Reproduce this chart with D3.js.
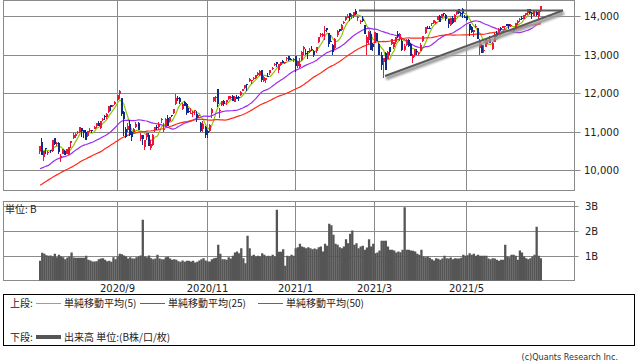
<!DOCTYPE html>
<html>
<head>
<meta charset="utf-8">
<script src="https://cdn.jsdelivr.net/npm/d3@7"></script>
<style>
html, body { margin: 0; padding: 0; background: #fff; }
svg { display: block; }
.num { font-family: "DejaVu Sans", sans-serif; font-size: 10px; fill: #222; }
.jp { font-family: "Noto Sans CJK JP", sans-serif; font-size: 10px; fill: #222; }
</style>
</head>
<body>
<svg id="chart" width="638" height="362"></svg>
<script>
// daily candles, 2020/7/10 .. 2021/6/22
const opens = [10487,10728,10330,10570,10440,10510,10490,10830,10680,10700,10300,10420,10500,10420,10400,10700,
10830,10880,10980,10990,11090,11030,11000,10880,11010,11040,11070,11140,11220,11090,11290,11400,11380,11500,11690,11660,11720,
11820,11970,11860,11500,11060,11030,11200,10990,11000,11110,11210,10800,10900,10600,10860,10920,10580,10650,11050,11120,11110,
11310,11050,11130,11340,11260,11430,11470,11710,11880,11880,11580,11760,11720,11540,11480,11470,11520,11460,11400,11230,11060,11110,
11010,11010,11490,11800,11860,12100,11540,11690,11780,11770,11850,11870,11910,11770,11900,11890,11960,12060,12120,12230,
12300,12320,12370,12390,12460,12480,12600,12300,12330,12450,12520,12620,12720,12800,12600,12740,12820,12780,12880,12960,12880,12880,
12960,12690,12670,12850,13150,13050,13080,13060,13150,13080,13090,13330,13500,13490,13600,13690,13550,13340,13240,
13160,13500,13660,13630,13830,13900,13950,14070,14010,14010,14130,13940,13860,13920,13760,13300,13370,13540,13260,
13310,13560,13280,12990,12800,13030,12880,13190,13260,13200,13330,13530,13400,13360,13120,13240,13370,13280,12900,12990,13100,13010,13090,
13340,13550,13700,13690,13780,13810,13840,13900,14010,13950,14080,14020,13910,13760,13940,13850,14050,14170,14090,14170,13980,
14000,13800,13710,13590,13710,13680,13160,13250,13100,13200,13370,13400,13130,13330,13560,13520,13690,13690,13720,13790,
13790,13750,13660,13660,13810,13920,13950,13930,14030,14070,14170,14080,14000,14100,14000,14140];
const highs = [10624,10824,10496,10580,10500,10531,10780,10840,10730,10720,10420,10540,10510,10550,10600,10750,
10950,10950,11003,11110,11100,11040,11050,11020,11100,11050,11140,11210,11280,11270,11340,11420,11470,11670,11700,11700,11790,
11945,12074,11860,11530,11120,11210,11290,11020,11100,11240,11250,10970,10900,10790,10970,10950,10780,10930,11120,11160,11240,
11340,11230,11340,11420,11370,11440,11580,11970,11910,11900,11740,11790,11740,11620,11600,11530,11550,11520,11440,11240,11260,11130,
11050,11190,11620,11900,11920,12110,11610,11800,11820,11830,11930,11920,11940,11910,11940,11910,12040,12110,12210,12230,
12400,12350,12420,12470,12540,12590,12610,12430,12380,12530,12600,12670,12770,12810,12750,12810,12870,12810,12930,12970,12920,12900,
12960,12840,12920,13090,13210,13130,13090,13160,13210,13120,13200,13460,13560,13560,13730,13700,13560,13510,13270,
13420,13630,13670,13780,13880,13990,14040,14070,14040,14100,14175,14000,13900,13990,13770,13500,13600,13620,13300,
13590,13570,13290,13070,12920,13060,13100,13200,13400,13330,13460,13620,13560,13400,13270,13400,13410,13300,13020,13150,13140,13060,13290,
13490,13710,13730,13730,13830,13900,13860,14000,14030,14050,14080,14040,13920,13950,14010,14060,14140,14180,14100,14210,14030,
14010,13800,13730,13640,13800,13690,13410,13280,13250,13440,13380,13480,13320,13550,13600,13690,13720,13750,13740,13790,
13800,13780,13670,13820,13890,13940,13990,14030,14070,14180,14170,14110,14160,14130,14140,14255];
const lows = [10427,10382,10230,10420,10390,10440,10470,10640,10620,10410,10220,10410,10400,10420,10380,10570,
10800,10830,10930,10960,10860,10830,10770,10860,10990,10970,11060,11100,11130,11070,11270,11300,11330,11490,11520,11630,11690,
11780,11850,11400,10875,10830,10990,10880,10760,10960,11100,11040,10760,10660,10520,10770,10630,10520,10620,10990,11040,11070,
11220,10980,11120,11130,11250,11370,11460,11700,11790,11710,11560,11660,11440,11480,11470,11380,11440,11250,11350,11000,10990,10820,
10830,10990,11340,11770,11760,11640,11340,11670,11650,11700,11830,11850,11800,11760,11850,11800,11920,12040,12110,12040,
12280,12230,12340,12370,12450,12450,12290,12290,12270,12420,12470,12600,12700,12680,12530,12690,12770,12750,12830,12820,12850,12800,
12540,12650,12660,12840,13000,12990,12890,13030,13100,12940,13040,13300,13460,13460,13380,13580,13190,13320,13000,
13110,13450,13580,13610,13790,13870,13950,13870,13930,13960,14020,13880,13780,13840,13530,13000,13260,13110,13080,
13300,13350,12990,12600,12400,12600,12880,13000,13240,13150,13260,13430,13350,13100,13090,13230,13200,12950,12790,12930,12990,12950,13090,
13330,13540,13660,13660,13730,13780,13790,13890,13840,13940,13990,13870,13690,13730,13780,13840,14020,14040,14000,13960,13940,
13880,13480,13570,13460,13690,13390,13000,13030,13050,13200,13260,13300,13120,13320,13460,13510,13610,13680,13630,13730,
13670,13710,13570,13650,13770,13840,13900,13910,14000,14020,14050,13920,13990,14000,13910,14110];
const closes = [10617,10391,10488,10550,10473,10503,10767,10680,10706,10461,10363,10536,10402,10542,10587,10745,
10903,10941,10998,11108,11011,10968,10782,11012,11042,11019,11129,11210,11146,11264,11312,11380,11466,11665,11625,11695,11775,
11939,12056,11458,11313,10847,11141,10919,10854,11056,11190,11050,10910,10793,10778,10964,10633,10672,10914,11118,11085,11168,
11326,11076,11332,11154,11364,11420,11580,11876,11863,11768,11714,11671,11479,11517,11485,11506,11548,11358,11431,11005,11186,10912,
10958,11161,11590,11890,11895,11713,11553,11786,11710,11829,11925,11899,11802,11905,11855,11881,12037,12095,12206,12199,
12355,12349,12377,12464,12520,12583,12339,12405,12378,12440,12595,12658,12765,12756,12742,12807,12771,12805,12900,12850,12870,12888,
12698,12819,12741,13067,13202,13036,13072,13128,13112,12998,13197,13457,13530,13543,13636,13626,13271,13337,13071,
13403,13612,13610,13778,13856,13987,14007,13973,14025,14095,14047,13966,13865,13874,13533,13465,13597,13119,13192,
13588,13358,12998,12723,12920,12609,13073,13068,13398,13320,13460,13471,13525,13116,13215,13378,13228,12962,12977,13139,13059,13045,13247,
13480,13705,13698,13688,13829,13900,13850,13996,13857,14039,14052,13914,13787,13950,13818,14017,14138,14090,14051,14082,13962,
13895,13634,13582,13633,13752,13402,13389,13032,13125,13430,13379,13303,13300,13536,13471,13662,13657,13738,13736,13749,
13737,13756,13615,13814,13882,13925,13912,14020,14070,14175,14073,14040,14162,14031,14141,14253];
// closes of the 49 sessions before the first candle, for the moving averages
const priorCloses = [8890,8605,8711,8809,8854,8980,9121,9192,9003,8863,8944,9015,9235,9185,9376,9285,9325,9340,9412,9369,9490,
9552,9608,9683,9616,9814,9925,9954,10020,9493,9589,9726,9896,9911,9943,9946,10056,10131,9909,10017,9757,9874,10059,
10155,10208,10434,10344,10493,10548];
// volume, B
const volumes = [0.79,1.11,1.07,1.01,0.99,1.00,0.96,1.07,0.93,1.03,0.96,0.93,0.85,0.92,0.96,1.12,0.92,0.91,0.91,0.91,
0.91,0.91,0.99,0.83,0.80,0.76,0.76,0.77,0.85,0.88,0.89,0.83,0.77,0.79,0.75,0.93,0.85,0.96,1.07,1.05,
1.00,0.96,0.88,0.93,0.88,0.88,0.93,0.96,1.00,2.43,0.96,0.93,1.00,0.89,0.85,0.88,1.03,0.88,0.85,0.85,
0.93,0.95,0.88,0.83,0.85,0.83,0.77,0.75,0.80,0.75,0.79,0.79,0.76,0.79,0.72,0.75,0.80,0.85,0.89,0.80,
0.76,0.76,0.85,0.89,0.91,1.43,1.07,0.85,0.85,0.83,0.93,0.88,0.99,1.12,1.16,1.09,1.29,0.89,0.69,1.79,
1.29,0.99,1.03,0.96,0.99,0.96,1.09,1.03,0.96,0.99,0.96,1.03,0.96,2.83,1.15,1.15,1.25,0.59,0.99,0.96,
1.03,0.99,1.29,1.33,1.47,1.36,1.33,1.29,1.33,1.29,1.25,1.28,1.25,1.33,1.36,1.16,1.47,1.39,2.27,2.21,
1.83,1.47,1.43,1.33,1.29,1.36,1.65,1.49,1.87,2.00,1.43,1.49,1.29,1.36,1.39,1.23,1.32,1.65,1.36,1.47,
1.09,1.12,1.20,1.59,1.59,1.59,1.36,1.23,1.23,1.20,1.12,1.16,1.13,1.23,2.93,1.23,1.23,1.20,1.19,1.16,
1.07,1.03,1.23,0.96,0.93,0.96,0.91,0.85,0.80,0.89,0.87,0.83,0.88,0.99,0.89,0.88,0.92,0.85,0.89,0.88,
0.88,0.91,1.03,0.99,1.01,1.09,1.03,1.07,0.99,1.03,0.99,0.99,0.99,0.99,0.88,0.85,0.89,0.88,0.83,0.79,
0.83,0.83,1.43,0.96,0.93,1.03,1.03,0.99,0.83,1.20,1.12,0.96,0.89,0.85,0.89,0.96,1.03,2.15,0.99,0.89];

const priceTicks = [10000, 11000, 12000, 13000, 14000];
const volTicks = [1, 2, 3];
const monthLabels = ["2020/9", "2020/11", "2021/1", "2021/3", "2021/5"];
const monthIndex = [37, 80, 122, 160, 204];
const maPeriods = [5, 25, 50];
const maColors = ["#8fc400", "#9a2cf0", "#ff2a1a"];
// drawn trend lines: [candle index, price]
const resistLine = [[152.2, 14143], [249.6, 14143]];
const supportLine = [[164.7, 12442], [249.6, 14143]];

const svg = d3.select('#chart');
const step = 2.095;
const left = 3.5, right = 574.5;

const x = d3.scaleLinear().domain([0, 240]).range([39, 39 + 240 * step]);
const cx = i => x(i) + step / 2;
const y = d3.scaleLinear().domain([10000, 14000]).range([170, 16]);
const yv = d3.scaleLinear().domain([0, 3]).range([280.5, 205.5]);

svg.append('defs').append('clipPath').attr('id', 'clipMain')
  .append('rect').attr('x', left).attr('y', 0.5).attr('width', right - left).attr('height', 190);
const blur = svg.select('defs').append('filter').attr('id', 'shade')
  .attr('x', '-5%').attr('y', '-50%').attr('width', '110%').attr('height', '200%');
blur.append('feGaussianBlur').attr('stdDeviation', 1.2);

// grid, upper panel
const grid = svg.append('g').attr('stroke', '#8a8a8a').attr('stroke-width', 1);
priceTicks.forEach(p => {
  const yy = Math.round(y(p)) + 0.5;
  grid.append('line').attr('x1', left).attr('x2', right + 6).attr('y1', yy).attr('y2', yy);
  svg.append('text').attr('class', 'num').attr('x', 584).attr('y', yy + 3.6).text(d3.format(',')(p));
});
volTicks.forEach(v => {
  const yy = Math.round(yv(v)) + 0.5;
  grid.append('line').attr('x1', left).attr('x2', right + 4).attr('y1', yy).attr('y2', yy);
  svg.append('text').attr('class', 'num').attr('x', 585).attr('y', yy + 3.6).text(v + 'B');
});
monthIndex.forEach((m, k) => {
  const xx = Math.round(x(m)) + 0.5;
  grid.append('line').attr('x1', xx).attr('x2', xx).attr('y1', 0.5).attr('y2', 190.5);
  grid.append('line').attr('x1', xx).attr('x2', xx).attr('y1', 201.5).attr('y2', 280.5);
  svg.append('text').attr('class', 'num').attr('x', xx).attr('y', 292)
    .attr('text-anchor', 'middle').text(monthLabels[k]);
});
grid.append('rect').attr('x', left).attr('y', 0.5).attr('width', right - left).attr('height', 190).attr('fill', 'none');
grid.append('rect').attr('x', left).attr('y', 201.5).attr('width', right - left).attr('height', 79).attr('fill', 'none');

// volume bars
svg.append('g').selectAll('rect').data(volumes).enter().append('rect')
  .attr('x', (d, i) => x(i))
  .attr('width', step + 0.2)
  .attr('y', d => yv(d))
  .attr('height', d => yv(0) - yv(d))
  .attr('fill', '#555');
svg.append('text').attr('class', 'jp').attr('x', 5).attr('y', 213).text('単位: B');

const main = svg.append('g').attr('clip-path', 'url(#clipMain)');

// moving averages
const allCloses = priorCloses.concat(closes);
const off = priorCloses.length;
maPeriods.forEach((n, k) => {
  const ma = closes.map((c, i) => d3.mean(allCloses.slice(off + i - n + 1, off + i + 1)));
  main.append('path').datum(ma)
    .attr('fill', 'none').attr('stroke', maColors[k]).attr('stroke-width', 1.2)
    .attr('d', d3.line().x((d, i) => cx(i)).y(d => y(d)));
});

// candles
const candles = main.append('g').attr('shape-rendering', 'crispEdges');
closes.forEach((c, i) => {
  const o = opens[i];
  const col = c >= o ? '#f0143c' : '#0c2c8c';
  const xc = Math.round(cx(i));
  candles.append('rect').attr('x', xc - 1).attr('width', 1)
    .attr('y', y(highs[i])).attr('height', Math.max(1, y(lows[i]) - y(highs[i]))).attr('fill', col);
  const top = y(Math.max(o, c));
  candles.append('rect').attr('x', xc - 1).attr('width', 2)
    .attr('y', top).attr('height', Math.max(1, y(Math.min(o, c)) - top)).attr('fill', col);
});

// trend lines
const tl = d3.line().x(d => cx(d[0])).y(d => y(d[1]));
[resistLine, supportLine].forEach(seg => {
  main.append('path').datum(seg).attr('d', tl)
    .attr('transform', 'translate(1,2.5)')
    .attr('fill', 'none').attr('stroke', '#9a9a9a').attr('stroke-width', 3.5)
    .attr('filter', 'url(#shade)');
  main.append('path').datum(seg).attr('d', tl)
    .attr('fill', 'none').attr('stroke', '#5a5a5a').attr('stroke-width', 2);
});

// legend
const lg = svg.append('g');
lg.append('rect').attr('x', 3.5).attr('y', 294.5).attr('width', 631).attr('height', 51)
  .attr('fill', 'none').attr('stroke', '#000');
lg.append('text').attr('class', 'jp').attr('x', 10).attr('y', 307).text('上段:');
const maX = [36, 140, 258];
maPeriods.forEach((n, k) => {
  lg.append('line').attr('x1', maX[k]).attr('x2', maX[k] + 25).attr('y1', 303.5).attr('y2', 303.5)
    .attr('stroke', maColors[k]).attr('stroke-width', 1);
  lg.append('text').attr('class', 'jp').attr('x', maX[k] + 28).attr('y', 307).text('単純移動平均(' + n + ')');
});
lg.append('text').attr('class', 'jp').attr('x', 10).attr('y', 341).text('下段:');
lg.append('line').attr('x1', 36).attr('x2', 61).attr('y1', 337).attr('y2', 337)
  .attr('stroke', '#555').attr('stroke-width', 4);
lg.append('text').attr('class', 'jp').attr('x', 64).attr('y', 341).text('出来高 単位:(B株/口/枚)');

svg.append('text').attr('x', 618).attr('y', 360).attr('text-anchor', 'end')
  .style('font-family', '"DejaVu Sans Condensed", "DejaVu Sans", sans-serif').style('font-size', '9px')
  .attr('fill', '#333').text('(c)Quants Research Inc.');
</script>
</body>
</html>
